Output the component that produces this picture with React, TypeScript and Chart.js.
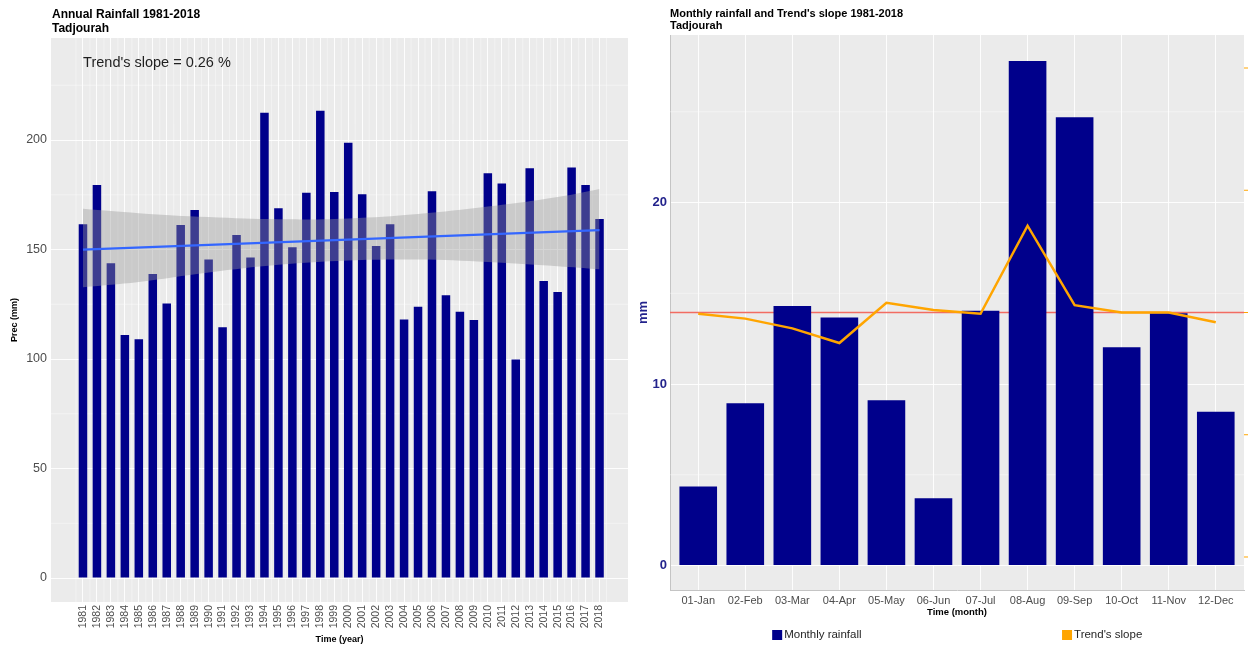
import React, { useEffect, useRef } from "react";
import { Chart, registerables } from "chart.js";

Chart.register(...registerables);

const FONT = "'Liberation Sans', Arial, Helvetica, sans-serif";
Chart.defaults.font.family = FONT;

// ---- Annual rainfall, Tadjourah 1981-2018 ----
const years = [
  1981, 1982, 1983, 1984, 1985, 1986, 1987, 1988, 1989, 1990,
  1991, 1992, 1993, 1994, 1995, 1996, 1997, 1998, 1999, 2000,
  2001, 2002, 2003, 2004, 2005, 2006, 2007, 2008, 2009, 2010,
  2011, 2012, 2013, 2014, 2015, 2016, 2017, 2018,
];
const annualRain = [
  161.6, 179.5, 143.7, 111.0, 109.0, 138.8, 125.4, 161.2, 168.0, 145.5,
  114.5, 156.6, 146.4, 212.5, 168.8, 151.0, 175.9, 213.4, 176.3, 198.8,
  175.3, 151.6, 161.6, 118.1, 123.9, 176.6, 129.1, 121.6, 117.8, 184.8,
  180.2, 99.8, 187.1, 135.6, 130.6, 187.5, 179.5, 163.9,
];
// fitted linear trend (end points) and its confidence band
const fitYears = [1981, 2018];
const fitValues = [150.0, 158.9];
const bandYears = [1981, 1985, 1990, 1995, 2000, 2005, 2010, 2015, 2018];
const bandUpper = [168.6, 166.6, 164.8, 163.8, 164.2, 166.2, 169.6, 174.0, 177.7];
const bandLower = [132.8, 135.2, 139.5, 143.0, 145.0, 145.4, 144.3, 142.4, 141.0];
const precTicks = [0, 50, 100, 150, 200];
const precMinor = [25, 75, 125, 175, 225];
const slopeNote = "Trend's slope = 0.26 %";
const noteAt = { x: 1986.3, y: 235 };

// ---- Monthly rainfall and trend slope ----
const months = [
  "01-Jan", "02-Feb", "03-Mar", "04-Apr", "05-May", "06-Jun",
  "07-Jul", "08-Aug", "09-Sep", "10-Oct", "11-Nov", "12-Dec",
];
const monthlyRain = [4.35, 8.94, 14.3, 13.66, 9.1, 3.7, 14.03, 27.8, 24.7, 12.03, 13.9, 8.47];
const monthlySlope = [-0.01, -0.05, -0.13, -0.25, 0.08, 0.02, -0.01, 0.71, 0.06, 0.0, 0.0, -0.08];
const slopeRef = 0;
const mmTicks = [0, 10, 20];
const mmMinor = [5, 15, 25];
const slopeTicks = [-2, -1, 0, 1, 2];

const PANEL_BG = "#EBEBEB";
const MAJOR_GRID = "rgba(255,255,255,0.9)";
const MINOR_GRID = "rgba(255,255,255,0.65)";
const NAVY = "#00008B";
const AXIS_TEXT = "#4d4d4d";
const BLUE_TEXT = "#23238c";

const MONTH_MIN = -0.6;
const MONTH_MAX = 11.6;

function fillPanel(chart: any) {
  const { ctx, chartArea: a } = chart;
  ctx.save();
  ctx.fillStyle = PANEL_BG;
  ctx.fillRect(a.left, a.top, a.right - a.left, a.bottom - a.top);
  ctx.restore();
}

function hLines(chart: any, scale: any, values: number[], color: string, width: number) {
  const { ctx, chartArea: a } = chart;
  ctx.save();
  ctx.strokeStyle = color;
  ctx.lineWidth = width;
  for (const v of values) {
    const p = scale.getPixelForValue(v);
    ctx.beginPath();
    ctx.moveTo(a.left, p);
    ctx.lineTo(a.right, p);
    ctx.stroke();
  }
  ctx.restore();
}

function vLines(chart: any, scale: any, values: number[], color: string, width: number) {
  const { ctx, chartArea: a } = chart;
  ctx.save();
  ctx.strokeStyle = color;
  ctx.lineWidth = width;
  for (const v of values) {
    const p = scale.getPixelForValue(v);
    ctx.beginPath();
    ctx.moveTo(p, a.top);
    ctx.lineTo(p, a.bottom);
    ctx.stroke();
  }
  ctx.restore();
}

function titleBlock(ctx: CanvasRenderingContext2D, x: number, lines: string[], ys: number[], size: number) {
  ctx.save();
  ctx.fillStyle = "#000";
  ctx.font = `bold ${size}px ${FONT}`;
  ctx.textAlign = "left";
  ctx.textBaseline = "middle";
  lines.forEach((t, i) => ctx.fillText(t, x, ys[i]));
  ctx.restore();
}

const annualDecor = {
  id: "annualDecor",
  beforeDraw(chart: any) {
    fillPanel(chart);
  },
  beforeDatasetsDraw(chart: any) {
    const { x, y } = chart.scales;
    hLines(chart, y, precMinor, MINOR_GRID, 0.6);
    const halfYears = [years[0] - 0.5, ...years.map((v) => v + 0.5)];
    vLines(chart, x, halfYears, MINOR_GRID, 0.6);
  },
  afterDraw(chart: any) {
    const { ctx, scales } = chart;
    titleBlock(ctx, 52, ["Annual Rainfall 1981-2018", "Tadjourah"], [15, 29], 12);
    ctx.save();
    ctx.fillStyle = "#1f1f1f";
    ctx.font = `14.5px ${FONT}`;
    ctx.textAlign = "center";
    ctx.textBaseline = "middle";
    ctx.fillText(slopeNote, scales.x.getPixelForValue(noteAt.x), scales.y.getPixelForValue(noteAt.y));
    ctx.restore();
  },
};

const monthlyDecor = {
  id: "monthlyDecor",
  beforeDraw(chart: any) {
    fillPanel(chart);
  },
  beforeDatasetsDraw(chart: any) {
    hLines(chart, chart.scales.y, mmMinor, MINOR_GRID, 0.6);
  },
  afterDraw(chart: any) {
    const { ctx, chartArea: a, scales, data } = chart;
    titleBlock(ctx, a.left, ["Monthly rainfall and Trend's slope 1981-2018", "Tadjourah"], [14, 26], 11);

    // secondary-axis tick marks at the right edge
    ctx.save();
    ctx.strokeStyle = "#FFA500";
    ctx.lineWidth = 1;
    for (const v of slopeTicks) {
      const p = scales.y2.getPixelForValue(v);
      ctx.beginPath();
      ctx.moveTo(a.right, p);
      ctx.lineTo(a.right + 4, p);
      ctx.stroke();
    }
    ctx.restore();

    // legend
    const w = a.right - a.left;
    const items = [
      { ds: data.datasets[1], x: a.left + w * 0.178 },
      { ds: data.datasets[2], x: a.left + w * 0.683 },
    ];
    const cy = 635;
    ctx.save();
    ctx.font = `11.5px ${FONT}`;
    ctx.textBaseline = "middle";
    ctx.textAlign = "left";
    for (const it of items) {
      const col = it.ds.type === "bar" ? it.ds.backgroundColor : it.ds.borderColor;
      ctx.fillStyle = col;
      ctx.fillRect(it.x, cy - 5, 10, 10);
      ctx.fillStyle = "#262626";
      ctx.fillText(it.ds.label, it.x + 12, cy);
    }
    ctx.restore();
  },
};

function annualConfig(): any {
  return {
    type: "bar",
    data: {
      datasets: [
        {
          type: "line",
          label: "Linear trend",
          data: fitYears.map((x, i) => ({ x, y: fitValues[i] })),
          borderColor: "#3366FF",
          borderWidth: 2.2,
          pointRadius: 0,
          order: 1,
        },
        {
          type: "line",
          label: "Upper bound",
          data: bandYears.map((x, i) => ({ x, y: bandUpper[i] })),
          borderColor: "transparent",
          backgroundColor: "rgba(153,153,153,0.4)",
          pointRadius: 0,
          tension: 0.4,
          fill: "+1",
          order: 2,
        },
        {
          type: "line",
          label: "Lower bound",
          data: bandYears.map((x, i) => ({ x, y: bandLower[i] })),
          borderColor: "transparent",
          pointRadius: 0,
          tension: 0.4,
          fill: false,
          order: 2,
        },
        {
          type: "bar",
          label: "Annual rainfall",
          data: years.map((x, i) => ({ x, y: annualRain[i] })),
          backgroundColor: NAVY,
          barPercentage: 0.61,
          categoryPercentage: 1,
          order: 3,
        },
      ],
    },
    options: {
      responsive: false,
      animation: false,
      devicePixelRatio: 1,
      layout: { autoPadding: false, padding: { top: 38, left: 0, right: 2, bottom: 0 } },
      plugins: { legend: { display: false }, tooltip: { enabled: false } },
      scales: {
        x: {
          type: "linear",
          min: 1978.71,
          max: 2020.04,
          offset: false,
          border: { display: false },
          grid: { offset: false, color: MAJOR_GRID, lineWidth: 1, drawTicks: false },
          afterBuildTicks: (axis: any) => {
            axis.ticks = years.map((v) => ({ value: v }));
          },
          ticks: {
            autoSkip: false,
            minRotation: 90,
            maxRotation: 90,
            padding: 3,
            color: AXIS_TEXT,
            font: { size: 10.5 },
            callback: (v: any) => String(v),
          },
          title: {
            display: true,
            text: "Time (year)",
            color: "#000",
            font: { size: 9, weight: "bold" },
            padding: { top: 0, bottom: 1 },
          },
          afterFit: (s: any) => {
            s.height = 44;
          },
        },
        y: {
          type: "linear",
          min: -10.96,
          max: 246.6,
          border: { display: false },
          grid: { color: MAJOR_GRID, lineWidth: 1, drawTicks: false },
          afterBuildTicks: (axis: any) => {
            axis.ticks = precTicks.map((v) => ({ value: v }));
          },
          ticks: {
            padding: 4,
            color: AXIS_TEXT,
            font: { size: 12.5 },
            callback: (v: any) => String(v),
          },
          title: {
            display: true,
            text: "Prec (mm)",
            color: "#000",
            font: { size: 9, weight: "bold" },
            padding: { top: 9, bottom: 0 },
          },
          afterFit: (s: any) => {
            s.width = 51;
          },
        },
      },
    },
    plugins: [annualDecor],
  };
}

function monthlyConfig(): any {
  return {
    type: "bar",
    data: {
      datasets: [
        {
          type: "line",
          label: "Zero slope",
          data: [
            { x: MONTH_MIN, y: slopeRef },
            { x: MONTH_MAX, y: slopeRef },
          ],
          yAxisID: "y2",
          borderColor: "rgb(242,108,98)",
          borderWidth: 1.3,
          pointRadius: 0,
          order: 3,
        },
        {
          type: "bar",
          label: "Monthly rainfall",
          data: monthlyRain.map((v, i) => ({ x: i, y: v })),
          yAxisID: "y",
          backgroundColor: NAVY,
          barPercentage: 0.8,
          categoryPercentage: 1,
          order: 2,
        },
        {
          type: "line",
          label: "Trend's slope",
          data: monthlySlope.map((v, i) => ({ x: i, y: v })),
          yAxisID: "y2",
          borderColor: "#FFA500",
          borderWidth: 2.5,
          pointRadius: 0,
          order: 1,
        },
      ],
    },
    options: {
      responsive: false,
      animation: false,
      devicePixelRatio: 1,
      layout: { autoPadding: false, padding: { top: 35, left: 0, right: 4, bottom: 0 } },
      plugins: { legend: { display: false }, tooltip: { enabled: false } },
      scales: {
        x: {
          type: "linear",
          min: MONTH_MIN,
          max: MONTH_MAX,
          offset: false,
          border: { display: true, color: "#c4c4c4", width: 1 },
          grid: { offset: false, color: MAJOR_GRID, lineWidth: 1, drawTicks: false },
          afterBuildTicks: (axis: any) => {
            axis.ticks = months.map((_, i) => ({ value: i }));
          },
          ticks: {
            autoSkip: false,
            maxRotation: 0,
            minRotation: 0,
            padding: 4,
            color: AXIS_TEXT,
            font: { size: 11 },
            callback: (v: any) => months[v] ?? "",
          },
          title: {
            display: true,
            text: "Time (month)",
            color: "#000",
            font: { size: 9.5, weight: "bold" },
            padding: { top: 0, bottom: 28 },
          },
          afterFit: (s: any) => {
            s.height = 56;
          },
        },
        y: {
          type: "linear",
          position: "left",
          min: -1.35,
          max: 29.23,
          border: { display: true, color: "#c4c4c4", width: 1 },
          grid: { color: MAJOR_GRID, lineWidth: 1, drawTicks: false },
          afterBuildTicks: (axis: any) => {
            axis.ticks = mmTicks.map((v) => ({ value: v }));
          },
          ticks: {
            padding: 3,
            color: BLUE_TEXT,
            font: { size: 13, weight: "bold" },
            callback: (v: any) => String(v),
          },
          title: {
            display: true,
            text: "mm",
            color: BLUE_TEXT,
            font: { size: 13, weight: "bold" },
            padding: { top: 6, bottom: 0 },
          },
          afterFit: (s: any) => {
            s.width = 40;
          },
        },
        y2: {
          type: "linear",
          position: "right",
          display: false,
          min: -2.27,
          max: 2.27,
          grid: { display: false },
        },
      },
    },
    plugins: [monthlyDecor],
  };
}

export default function App() {
  const leftRef = useRef<HTMLCanvasElement>(null);
  const rightRef = useRef<HTMLCanvasElement>(null);

  useEffect(() => {
    const annual = new Chart(leftRef.current as HTMLCanvasElement, annualConfig());
    const monthly = new Chart(rightRef.current as HTMLCanvasElement, monthlyConfig());
    return () => {
      annual.destroy();
      monthly.destroy();
    };
  }, []);

  return (
    <div style={{ position: "absolute", left: 0, top: 0, width: 1248, height: 646, background: "#fff" }}>
      <canvas ref={leftRef} width={630} height={646} style={{ position: "absolute", left: 0, top: 0 }} />
      <canvas ref={rightRef} width={618} height={646} style={{ position: "absolute", left: 630, top: 0 }} />
    </div>
  );
}
